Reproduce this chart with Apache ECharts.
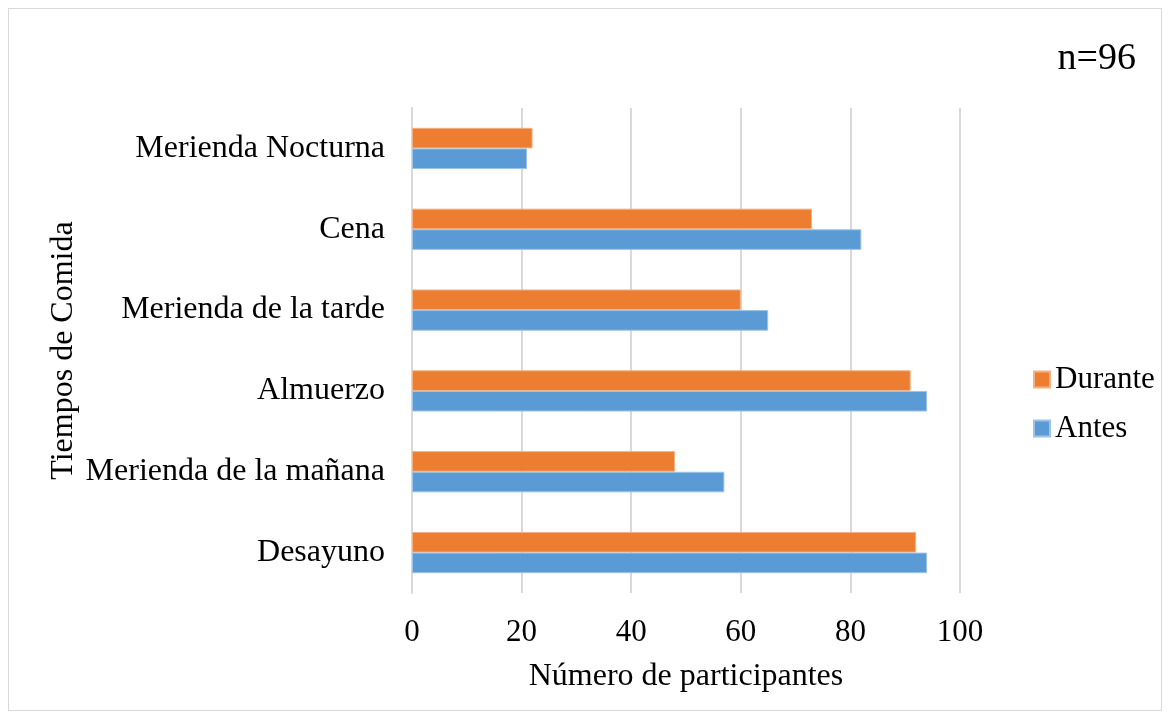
<!DOCTYPE html>
<html>
<head>
<meta charset="utf-8">
<script src="https://cdn.jsdelivr.net/npm/echarts@6/dist/echarts.min.js"></script>
<style>
  html, body { margin: 0; padding: 0; background: #fff; }
  #chart { position: absolute; left: 8px; top: 8px; width: 1152px; height: 701px; border: 1px solid #d9d9d9; }
</style>
</head>
<body>
<div id="chart"></div>
<script>
// categories bottom to top, as the axis draws them
var categories = ['Desayuno', 'Merienda de la mañana', 'Almuerzo', 'Merienda de la tarde', 'Cena', 'Merienda Nocturna']
var antes = [94, 57, 94, 65, 82, 21]
var durante = [92, 48, 91, 60, 73, 22]
var xTicks = [0, 20, 40, 60, 80, 100]

var font = 'Liberation Serif, Times New Roman, serif'

var chart = echarts.init(document.getElementById('chart'))
chart.setOption({
  animation: false,
  textStyle: { fontFamily: font },
  title: {
    text: 'n=96',
    right: 20,
    top: 26,
    textStyle: { fontFamily: font, fontSize: 38, fontWeight: 'normal', color: '#000' }
  },
  legend: {
    orient: 'vertical',
    left: 1019,
    top: 350,
    itemWidth: 16,
    itemHeight: 16,
    itemGap: 18,
    icon: 'rect',
    data: ['Durante', 'Antes'],
    textStyle: { fontFamily: font, fontSize: 31, color: '#000' }
  },
  grid: { left: 403, right: 201, top: 99, bottom: 117, containLabel: false },
  xAxis: {
    type: 'value',
    min: xTicks[0],
    max: xTicks[xTicks.length - 1],
    interval: 20,
    name: 'Número de participantes',
    nameLocation: 'middle',
    nameGap: 68,
    nameTextStyle: { fontFamily: font, fontSize: 32, color: '#000' },
    axisLine: { show: false },
    axisTick: { show: false },
    axisLabel: { fontFamily: font, fontSize: 31, color: '#000', margin: 24 },
    splitLine: { show: true, lineStyle: { color: '#d9d9d9', width: 2 } }
  },
  yAxis: {
    type: 'category',
    data: categories,
    name: 'Tiempos de Comida',
    nameLocation: 'middle',
    nameGap: 332,
    nameRotate: 90,
    nameTextStyle: { fontFamily: font, fontSize: 32, color: '#000' },
    axisLine: { show: true, lineStyle: { color: '#d9d9d9', width: 2 } },
    axisTick: { show: false },
    axisLabel: { fontFamily: font, fontSize: 32, color: '#000', margin: 27 }
  },
  series: [
    {
      name: 'Durante',
      type: 'bar',
      data: durante,
      barGap: '0%',
      barCategoryGap: '49%',
      itemStyle: { color: '#ed7d31', borderColor: '#f4b183', borderWidth: 1 }
    },
    {
      name: 'Antes',
      type: 'bar',
      data: antes,
      barGap: '0%',
      barCategoryGap: '49%',
      itemStyle: { color: '#5b9bd5', borderColor: '#9dc3e6', borderWidth: 1 }
    }
  ]
})
</script>
</body>
</html>
